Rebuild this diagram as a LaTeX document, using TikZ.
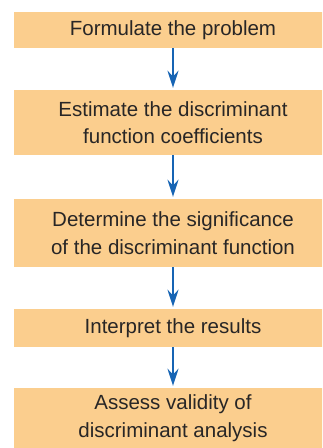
\documentclass[tikz,border=0pt]{standalone}
\usepackage{fontspec}
\setmainfont{Liberation Sans}
\usetikzlibrary{arrows.meta}
\definecolor{boxfill}{RGB}{251,206,142}
\definecolor{arrowblue}{RGB}{22,100,180}
\definecolor{txt}{RGB}{40,38,38}
\begin{document}
\begin{tikzpicture}[x=1pt,y=-1pt,
  stepbox/.style={rectangle, fill=boxfill, draw=none, minimum width=318pt, align=center, text=txt, font=\fontsize{20.5}{27.5}\selectfont, inner sep=0pt},
  flow/.style={arrowblue, line width=2.2pt, -{Stealth[length=17pt,width=11pt]}}]
\useasboundingbox (0,0) rectangle (322,448);
\begin{scope}
\clip (0,0) rectangle (322,448);
\node[stepbox, minimum height=36pt] (b1) at (173,30) {Formulate the problem};
\node[stepbox, minimum height=65pt] (b2) at (173,122.5) {Estimate the discriminant\\function coefficients};
\node[stepbox, minimum height=68pt] (b3) at (173,233) {Determine the significance\\of the discriminant function};
\node[stepbox, minimum height=38pt] (b4) at (173,328) {Interpret the results};
\node[stepbox, minimum height=60pt] (b5) at (173,418) {Assess validity of\\discriminant analysis};
\end{scope}
\draw[flow] (b1.south) -- ([yshift=2pt]b2.north);
\draw[flow] (b2.south) -- ([yshift=2pt]b3.north);
\draw[flow] (b3.south) -- ([yshift=2pt]b4.north);
\draw[flow] (b4.south) -- ([yshift=2pt]b5.north);
\end{tikzpicture}
\end{document}
